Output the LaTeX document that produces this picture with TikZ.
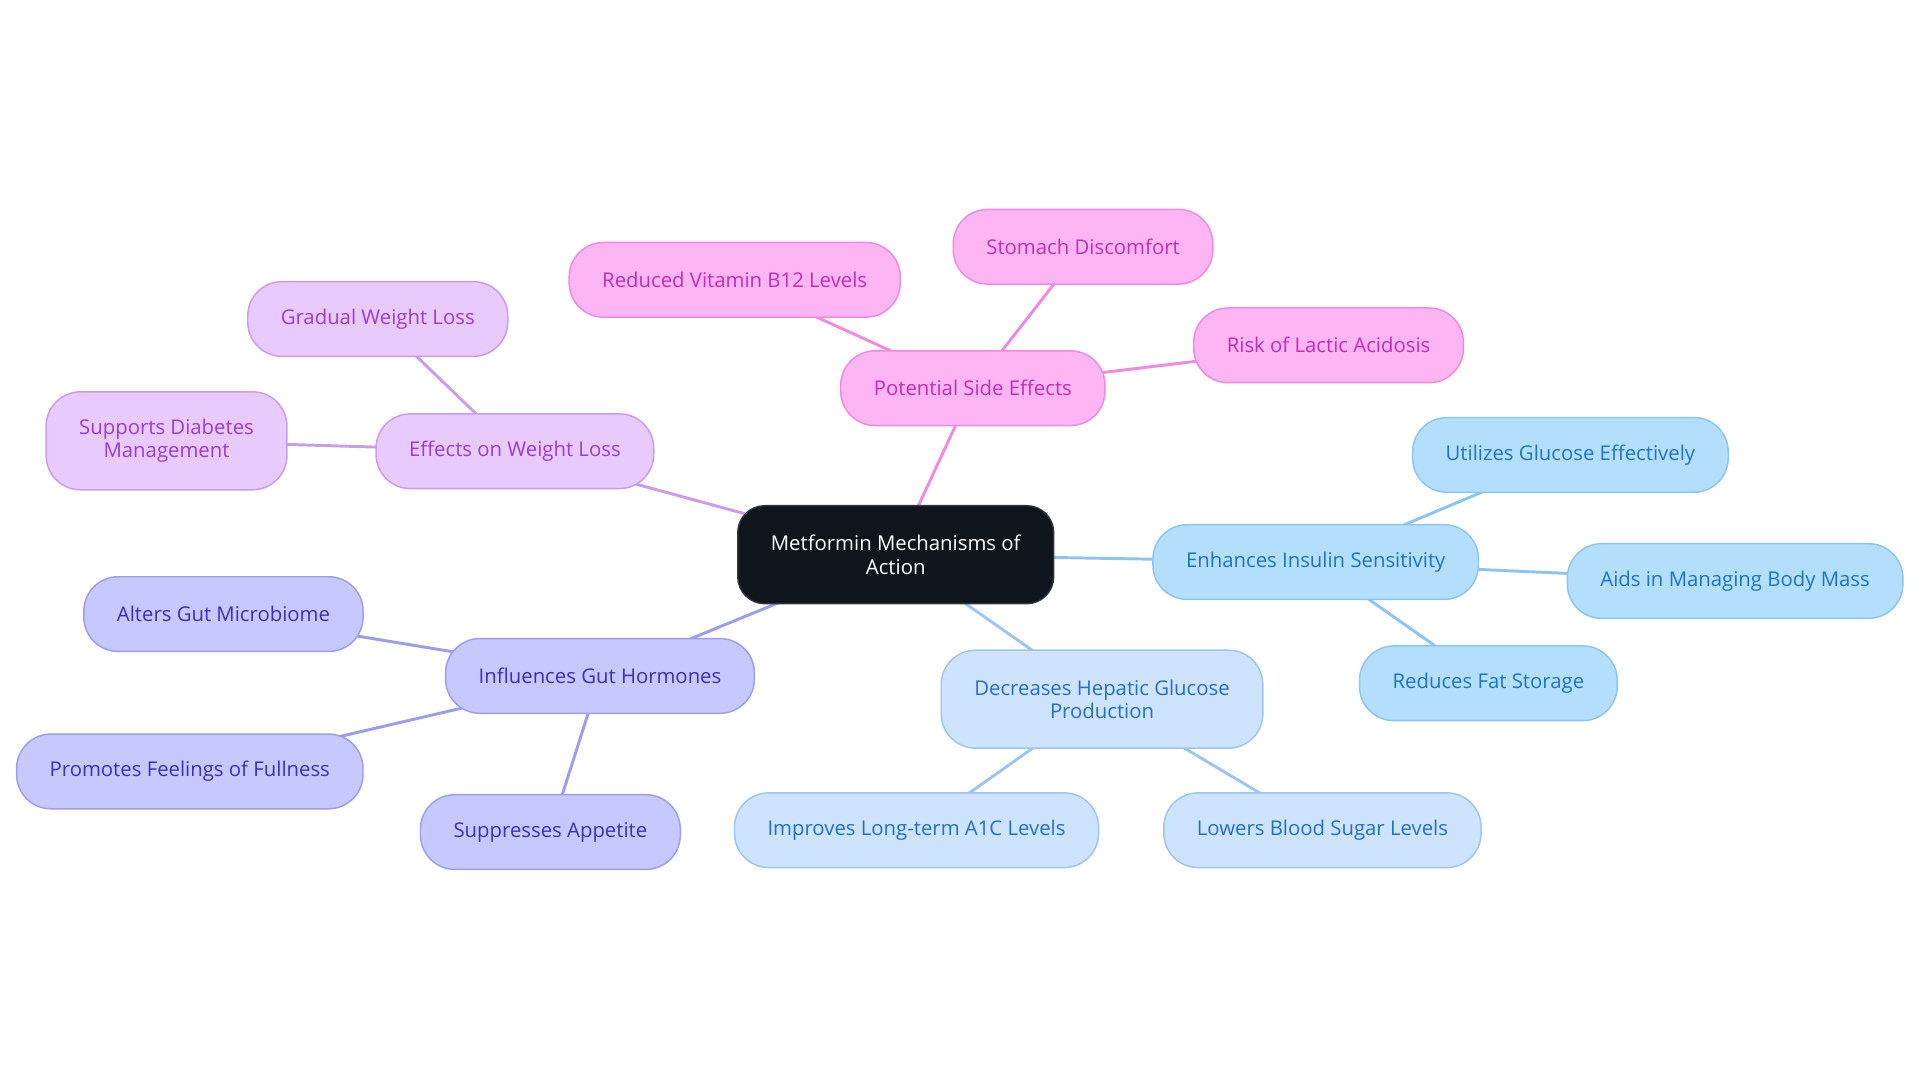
\documentclass[tikz,border=0pt]{standalone}
\usepackage{fontspec}
\setmainfont{Open Sans}
\usepackage{tikz}
\usetikzlibrary{positioning,backgrounds}

\definecolor{rootfill}{HTML}{0E151D}
\definecolor{pinkfill}{HTML}{FDB5F3}
\definecolor{pinkline}{HTML}{EE8BE0}
\definecolor{pinktext}{HTML}{C22EB5}
\definecolor{lilacfill}{HTML}{E9CAFD}
\definecolor{lilacline}{HTML}{C99CEF}
\definecolor{lilactext}{HTML}{9A3DD6}
\definecolor{violetfill}{HTML}{C6C9FD}
\definecolor{violetline}{HTML}{9D9DEE}
\definecolor{violettext}{HTML}{3A2FC2}
\definecolor{skyfill}{HTML}{B3DFFD}
\definecolor{skyline}{HTML}{8DC5F0}
\definecolor{skytext}{HTML}{1E75C4}
\definecolor{palefill}{HTML}{CEE3FD}
\definecolor{paleline}{HTML}{9FC4EF}
\definecolor{paletext}{HTML}{2271C9}

\begin{document}
\begin{tikzpicture}[
    x=1pt, y=-1pt,
    topic/.style={rectangle, draw, line width=1.2pt, rounded corners=28pt, minimum height=61pt, inner xsep=27pt, align=center, font=\fontsize{16.6}{19}\selectfont},
    root/.style={topic, fill=rootfill, draw=rootfill!70!gray, text=white, rounded corners=22pt, minimum height=80pt},
    pink/.style={topic, fill=pinkfill, draw=pinkline, text=pinktext},
    lilac/.style={topic, fill=lilacfill, draw=lilacline, text=lilactext},
    violet/.style={topic, fill=violetfill, draw=violetline, text=violettext},
    sky/.style={topic, fill=skyfill, draw=skyline, text=skytext},
    pale/.style={topic, fill=palefill, draw=paleline, text=paletext},
    link/.style={line width=2.4pt}
]
\useasboundingbox (0,0) rectangle (1568,884.5);

% Nodes
\node[root] (MET) at (731.5,453) {Metformin Mechanisms of\\Action};

\node[pink] (SIDE) at (794.5,317) {Potential Side Effects};
\node[pink] (B12) at (600,228.5) {Reduced Vitamin B12 Levels};
\node[pink] (STOM) at (884.5,201.5) {Stomach Discomfort};
\node[pink] (LACT) at (1085,282) {Risk of Lactic Acidosis};

\node[lilac] (WL) at (420.5,368.5) {Effects on Weight Loss};
\node[lilac] (GRAD) at (308.5,260.5) {Gradual Weight Loss};
\node[lilac, minimum height=80pt] (DIAB) at (136,360) {Supports Diabetes\\Management};

\node[violet] (GUT) at (490,552) {Influences Gut Hormones};
\node[violet] (MICRO) at (182.5,501.5) {Alters Gut Microbiome};
\node[violet] (FULL) at (155,630) {Promotes Feelings of Fullness};
\node[violet] (APP) at (449.5,679.5) {Suppresses Appetite};

\node[sky] (INS) at (1074.5,459) {Enhances Insulin Sensitivity};
\node[sky] (UTIL) at (1282.5,371.5) {Utilizes Glucose Effectively};
\node[sky] (BODY) at (1417,474.5) {Aids in Managing Body Mass};
\node[sky] (FAT) at (1215.5,558) {Reduces Fat Storage};

\node[pale, minimum height=80pt] (HEP) at (900,571) {Decreases Hepatic Glucose\\Production};
\node[pale] (A1C) at (748.5,678) {Improves Long-term A1C Levels};
\node[pale] (SUGAR) at (1080,678) {Lowers Blood Sugar Levels};

% Connections (behind the boxes)
\begin{scope}[on background layer]
\draw[link, pinkline] (MET.center) -- (SIDE.center);
\draw[link, pinkline] (SIDE.center) -- (B12.center);
\draw[link, pinkline] (SIDE.center) -- (STOM.center);
\draw[link, pinkline] (SIDE.center) -- (LACT.center);

\draw[link, lilacline] (MET.center) -- (WL.center);
\draw[link, lilacline] (WL.center) -- (GRAD.center);
\draw[link, lilacline] (WL.center) -- (DIAB.center);

\draw[link, violetline] (MET.center) -- (GUT.center);
\draw[link, violetline] (GUT.center) -- (MICRO.center);
\draw[link, violetline] (GUT.center) -- (FULL.center);
\draw[link, violetline] (GUT.center) -- (APP.center);

\draw[link, skyline] (MET.center) -- (INS.center);
\draw[link, skyline] (INS.center) -- (UTIL.center);
\draw[link, skyline] (INS.center) -- (BODY.center);
\draw[link, skyline] (INS.center) -- (FAT.center);

\draw[link, paleline] (MET.center) -- (HEP.center);
\draw[link, paleline] (HEP.center) -- (A1C.center);
\draw[link, paleline] (HEP.center) -- (SUGAR.center);
\end{scope}

\end{tikzpicture}
\end{document}
